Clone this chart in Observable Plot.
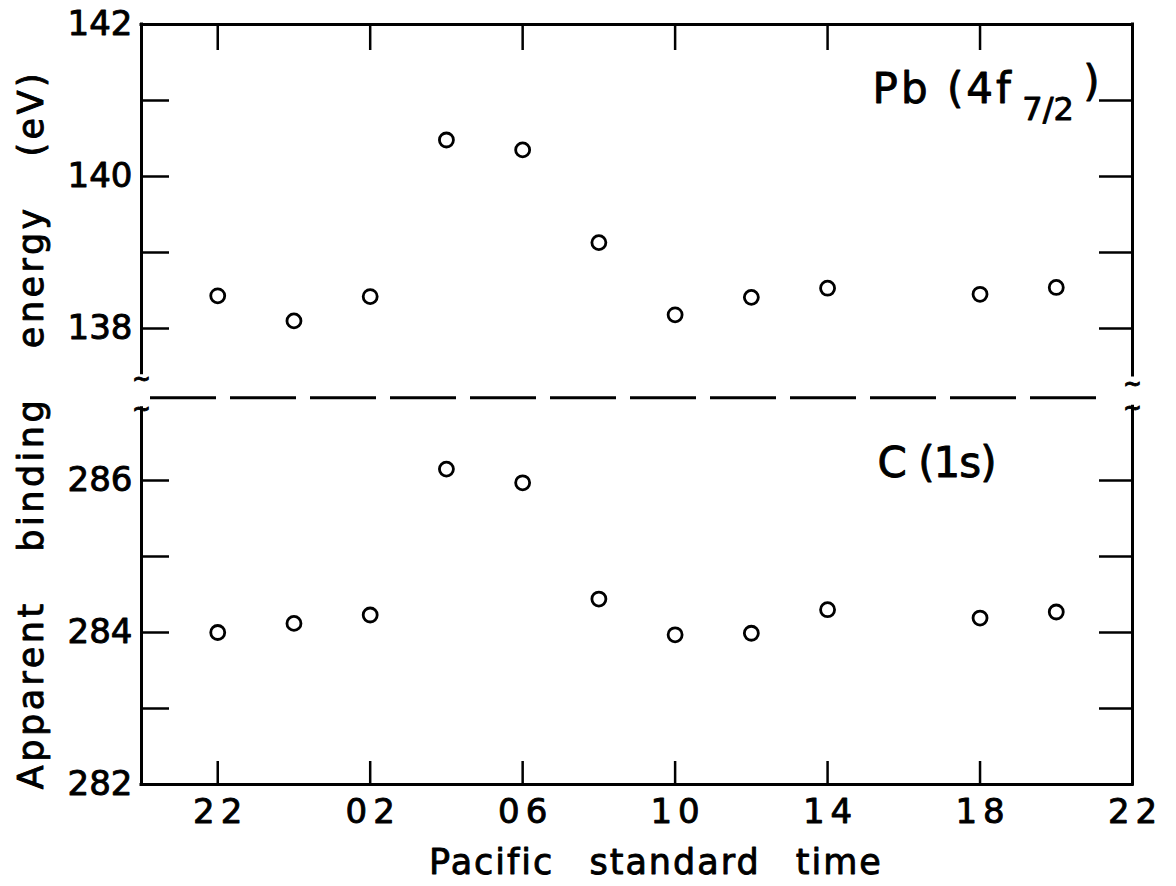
<!DOCTYPE html>
<html><head><meta charset="utf-8">
<script src="https://cdn.jsdelivr.net/npm/d3@7"></script>
<script src="https://cdn.jsdelivr.net/npm/@observablehq/plot@0.6"></script>
<style>html,body{margin:0;padding:0;background:#fff;overflow:hidden} svg{display:block}</style>
</head><body><div id="chart"></div>
<script>
// ---- data ----
const timeLabels   = ["22","00","02","04","06","08","10","12","14","18","20"];
const hoursSince22 = [0, 2, 4, 6, 8, 10, 12, 14, 16, 20, 22];
const pbBinding    = [138.43, 138.10, 138.42, 140.48, 140.35, 139.13, 138.18, 138.41, 138.53, 138.45, 138.54];
const cBinding     = [284.00, 284.12, 284.23, 286.15, 285.97, 284.44, 283.97, 283.99, 284.30, 284.19, 284.27];

const xTickHours   = [0, 4, 8, 12, 16, 20, 24];
const xTickLabels  = ["22","02","06","10","14","18","22"];
const pbTickLabels = [138, 140, 142];
const pbMinorTicks = [138, 139, 140, 141];
const cTickLabels  = [282, 284, 286];
const cMinorTicks  = [283, 284, 285, 286];

// Pb panel is drawn above the C panel on a broken axis: shift its values
const PB_SHIFT = 150;
const cPanelTop = 287.0;          // top of visible C(1s) range
const pbPanelBottomLeft = 137.36; // bottom of visible Pb range (left edge)
const pbPanelBottomRight = 137.32;
const breakLine = 287.09;         // dashed separator (shifted units)
const squiggles = [
  {x: -2, y: 287.33}, {x: -2, y: 286.94},
  {x: 24, y: 287.27}, {x: 24, y: 286.96}
];

const pbData = hoursSince22.map((t, i) => ({t, label: timeLabels[i], e: pbBinding[i] + PB_SHIFT}));
const cData  = hoursSince22.map((t, i) => ({t, label: timeLabels[i], e: cBinding[i]}));
const yTicks = [...cMinorTicks, ...pbMinorTicks.map(v => v + PB_SHIFT)];

const W = 1176, H = 886, ML = 141, MR = 44, MT = 24, MB = 102;
const FW = W - ML - MR, FH = H - MT - MB;
const font = "DejaVu Sans";
const ink = {stroke: "black", strokeWidth: 0.9, fill: "black"};

const plot = Plot.plot({
  width: W, height: H,
  marginLeft: ML, marginRight: MR, marginTop: MT, marginBottom: MB,
  x: {domain: [-2, 24], axis: null},
  y: {domain: [282, 292], axis: null},
  style: {fontFamily: font, color: "black", background: "white"},
  marks: [
    // frame
    Plot.ruleY([282, 292], {stroke: "black", strokeWidth: 3, strokeLinecap: "square"}),
    Plot.ruleX([
      {x: -2, y1: 282, y2: cPanelTop - 0.05},
      {x: -2, y1: pbPanelBottomLeft + PB_SHIFT + 0.05, y2: 292},
      {x: 24, y1: 282, y2: cPanelTop - 0.03},
      {x: 24, y1: pbPanelBottomRight + PB_SHIFT + 0.06, y2: 292}
    ], {x: "x", y1: "y1", y2: "y2", stroke: "black", strokeWidth: 3, strokeLinecap: "square"}),
    // break squiggles
    Plot.text(squiggles, {x: "x", y: "y", text: () => "~", fontSize: 22, fontWeight: "bold", lineAnchor: "middle", ...ink}),
    // dashed separator
    Plot.ruleY([breakLine], {insetLeft: 9, insetRight: 24, stroke: "black", strokeWidth: 3, strokeDasharray: "66,14"}),
    // inward ticks
    Plot.tickY(yTicks, {y: d => d, insetRight: FW - 28, stroke: "black", strokeWidth: 2.5}),
    Plot.tickY(yTicks, {y: d => d, insetLeft: FW - 33, stroke: "black", strokeWidth: 2.5}),
    Plot.tickX(xTickHours.slice(0, -1), {x: d => d, insetBottom: FH - 26, stroke: "black", strokeWidth: 2.5}),
    Plot.tickX(xTickHours.slice(0, -1), {x: d => d, insetTop: FH - 23, stroke: "black", strokeWidth: 2.5}),
    // y tick labels
    Plot.text(cTickLabels, {y: d => d, text: d => String(d), frameAnchor: "left", textAnchor: "end", dx: -9, lineAnchor: "middle", fontSize: 34, ...ink}),
    Plot.text(pbTickLabels, {y: d => d + PB_SHIFT, text: d => String(d), frameAnchor: "left", textAnchor: "end", dx: -9, lineAnchor: "middle", fontSize: 34, ...ink}),
    // x tick labels
    Plot.text(xTickHours, {x: d => d, text: (d, i) => xTickLabels[i], frameAnchor: "bottom", textAnchor: "middle", lineAnchor: "bottom", dy: 38, dx: 3, fontSize: 34, ariaLabel: () => "xticklabels", ...ink}),
    // axis titles
    Plot.text(["Pacific standard time"], {text: d => d, frameAnchor: "bottom", textAnchor: "middle", lineAnchor: "bottom", dx: 19, dy: 89, fontSize: 35, ariaLabel: () => "xtitle", ...ink}),
    Plot.text(["Apparent binding energy (eV)"], {text: d => d, frameAnchor: "left", textAnchor: "middle", rotate: -90, lineAnchor: "bottom", dx: -99, dy: 25, fontSize: 35, ariaLabel: () => "ytitle", ...ink}),
    // panel labels
    Plot.text(["Pb (4f"], {x: 17.18, y: 140.97 + PB_SHIFT, text: d => d, textAnchor: "start", lineAnchor: "bottom", fontSize: 42, ariaLabel: () => "pblabel", ...ink}),
    Plot.text(["7/2"], {x: 21.11, y: 140.74 + PB_SHIFT, text: d => d, textAnchor: "start", lineAnchor: "bottom", fontSize: 32, ...ink}),
    Plot.text([")"], {x: 22.71, y: 141.24 + PB_SHIFT, text: d => d, textAnchor: "start", lineAnchor: "middle", fontSize: 42, ...ink}),
    Plot.text(["C (1s)"], {x: 17.31, y: 286.04, text: d => d, textAnchor: "start", lineAnchor: "bottom", fontSize: 42, ariaLabel: () => "clabel", ...ink}),
    // data
    Plot.dot(pbData, {x: "t", y: "e", r: 7, stroke: "black", strokeWidth: 2.8, fill: "none"}),
    Plot.dot(cData, {x: "t", y: "e", r: 7, stroke: "black", strokeWidth: 2.8, fill: "none"})
  ]
});

const svg = d3.select(plot);
svg.selectAll('text[aria-label="xticklabels"]').style("letter-spacing", "6px");
svg.selectAll('text[aria-label="xtitle"]').style("letter-spacing", "2px").style("word-spacing", "22px");
svg.selectAll('text[aria-label="ytitle"]').style("letter-spacing", "3.5px").style("word-spacing", "34px");
svg.selectAll('text[aria-label="pblabel"]').style("letter-spacing", "3px");
svg.selectAll('text[aria-label="clabel"]').style("letter-spacing", "-1px");
document.getElementById("chart").appendChild(plot);
</script>
</body></html>
